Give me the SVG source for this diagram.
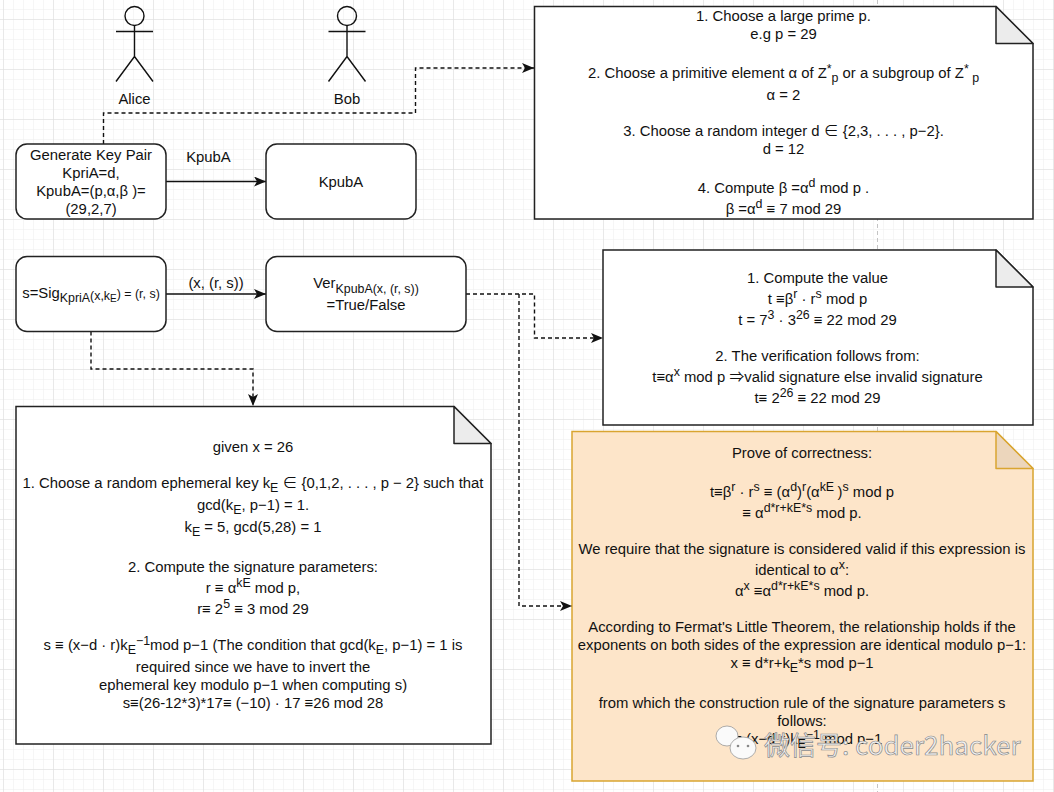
<svg xmlns="http://www.w3.org/2000/svg" width="1054" height="792" viewBox="0 0 1054 792">
<style>
text{font-family:"Liberation Sans",Arial,"Noto Sans CJK SC",sans-serif;font-size:14.85px;fill:#111;text-anchor:middle}
.u{font-size:12.4px}
.box{fill:#fff;stroke:#222;stroke-width:1.5}
.fold{fill:#ececec;stroke:#222;stroke-width:1.5;stroke-linejoin:round}
.note{fill:#fff;stroke:#222;stroke-width:1.5;stroke-linejoin:miter}
.actor{fill:none;stroke:#111;stroke-width:1.4}
.solid{fill:none;stroke:#111;stroke-width:1.4;marker-end:url(#arrow)}
.dash{fill:none;stroke:#111;stroke-width:1.4;stroke-dasharray:4 3;marker-end:url(#arrow)}
.wm{font-family:"Noto Sans CJK SC","Liberation Sans",sans-serif;font-size:26px;fill:#f2f2f2;stroke:#8a8a8a;stroke-width:.7;text-anchor:start}
</style>
<defs>
<pattern id="minor" width="10" height="10" x="3" y="9" patternUnits="userSpaceOnUse"><path d="M10 0H0V10" fill="none" stroke="#ededed" stroke-width="1"/></pattern>
<pattern id="major" width="50" height="50" x="3" y="19" patternUnits="userSpaceOnUse"><path d="M50 0H0V50" fill="none" stroke="#dcdcdc" stroke-width="1"/></pattern>
<marker id="arrow" viewBox="0 0 12 10" refX="12" refY="5" markerWidth="12" markerHeight="10" markerUnits="userSpaceOnUse" orient="auto"><path d="M0 0L12 5L0 10L3 5Z" fill="#111"/></marker>
</defs>
<rect width="1054" height="792" fill="#fff"/>
<rect width="1054" height="792" fill="url(#minor)"/>
<rect width="1054" height="792" fill="url(#major)"/>
<path d="M877.5 0V792" stroke="#c4c4c4" stroke-width="1" stroke-dasharray="4 3" fill="none"/>

<g id="connectors">
<path class="dash" d="M103.5 144V113H415.5V68H534"/>
<path class="solid" d="M166 181.5H266"/>
<path class="solid" d="M166 294H266"/>
<path class="dash" d="M91 331.500V369H253V406"/>
<path class="dash" d="M466 294H534.500V338H603"/>
<path class="dash" d="M519 294V606H572"/>
<text x="208.500" y="162">KpubA</text>
<text x="216" y="288">(x, (r, s))</text>
</g>

<g id="alice">
<g class="actor"><circle cx="134.500" cy="16" r="9.500"/><path d="M134.500 25.500V56.500M116 31.500H153M116 81.500L134.500 56.500L153 81.500"/></g>
<text x="134.500" y="104">Alice</text>
</g>
<g id="bob">
<g class="actor"><circle cx="347" cy="16" r="9.500"/><path d="M347 25.500V56.500M328.500 31.500H365.500M328.500 81.500L347 56.500L365.500 81.500"/></g>
<text x="347" y="104">Bob</text>
</g>

<g id="keygen">
<rect class="box" x="16" y="144" width="150" height="75" rx="11"/>
<text x="91" y="160">Generate Key Pair</text>
<text x="91" y="178">KpriA=d,</text>
<text x="91" y="196">KpubA=(p,α,β )=</text>
<text x="91" y="214">(29,2,7)</text>
</g>
<g id="kpuba">
<rect class="box" x="266" y="144" width="150" height="75" rx="11"/>
<text x="341" y="187">KpubA</text>
</g>
<g id="sign">
<rect class="box" x="16" y="256.500" width="150" height="75" rx="11"/>
<text x="91" y="298">s=Sig<tspan class="u" dy="4">KpriA</tspan><tspan class="u" dy="-2">(x,k</tspan><tspan class="u" dy="2" style="font-size:10px">E</tspan><tspan class="u" dy="-4">) = (r, s)</tspan></text>
</g>
<g id="verify">
<rect class="box" x="266" y="256.500" width="200" height="75" rx="11"/>
<text x="366" y="288">Ver<tspan class="u" dy="5">KpubA(x, (r, s))</tspan></text>
<text x="366" y="310">=True/False</text>
</g>

<g id="note-keygen">
<path class="note" d="M534.500 6.500H996L1033 43.500V219H534.500Z"/>
<path class="fold" d="M996 6.500V43.500H1033Z"/>
<text x="783.500" y="21">1. Choose a large prime p.</text>
<text x="783.500" y="39">e.g p = 29</text>
<text x="783.500" y="78">2. Choose a primitive element α of Z<tspan class="u" dy="-5">*</tspan><tspan class="u" dy="9">p</tspan><tspan dy="-4"> or a subgroup of Z</tspan><tspan class="u" dy="-5">*</tspan><tspan class="u" dy="9"> p</tspan></text>
<text x="783.500" y="100">α = 2</text>
<text x="783.500" y="136">3. Choose a random integer d ∈ {2,3, . . . , p−2}.</text>
<text x="783.500" y="154">d = 12</text>
<text x="783.500" y="193">4. Compute β =α<tspan class="u" dy="-6">d</tspan><tspan dy="6"> mod p .</tspan></text>
<text x="783.500" y="214">β =α<tspan class="u" dy="-6">d</tspan><tspan dy="6"> ≡ 7 mod 29</tspan></text>
</g>

<g id="note-verify">
<path class="note" d="M603 250H996L1033 287V425H603Z"/>
<path class="fold" d="M996 250V287H1033Z"/>
<text x="817.500" y="283">1. Compute the value</text>
<text x="817.500" y="304">t ≡β<tspan class="u" dy="-6">r</tspan><tspan dy="6"> · r</tspan><tspan class="u" dy="-6">s</tspan><tspan dy="6"> mod p</tspan></text>
<text x="817.500" y="325">t = 7<tspan class="u" dy="-6">3</tspan><tspan dy="6"> · 3</tspan><tspan class="u" dy="-6">26</tspan><tspan dy="6"> ≡ 22 mod 29</tspan></text>
<text x="817.500" y="361">2. The verification follows from:</text>
<text x="817.500" y="382">t≡α<tspan class="u" dy="-6">x</tspan><tspan dy="6"> mod p ⇒valid signature else invalid signature</tspan></text>
<text x="817.500" y="403">t≡ 2<tspan class="u" dy="-6">26</tspan><tspan dy="6"> ≡ 22 mod 29</tspan></text>
</g>

<g id="note-sign">
<path class="note" d="M16 406.500H454L491 443.500V744H16Z"/>
<path class="fold" d="M454 406.500V443.500H491Z"/>
<text x="253" y="452">given x = 26</text>
<text x="253" y="488">1. Choose a random ephemeral key k<tspan class="u" dy="4">E</tspan><tspan dy="-4"> ∈ {0,1,2, . . . , p − 2} such that</tspan></text>
<text x="253" y="510">gcd(k<tspan class="u" dy="4">E</tspan><tspan dy="-4">, p−1) = 1.</tspan></text>
<text x="253" y="532">k<tspan class="u" dy="4">E</tspan><tspan dy="-4"> = 5, gcd(5,28) = 1</tspan></text>
<text x="253" y="572">2. Compute the signature parameters:</text>
<text x="253" y="593">r ≡ α<tspan class="u" dy="-6">kE</tspan><tspan dy="6"> mod p,</tspan></text>
<text x="253" y="614">r≡ 2<tspan class="u" dy="-6">5</tspan><tspan dy="6"> ≡ 3 mod 29</tspan></text>
<text x="253" y="650">s ≡ (x−d · r)k<tspan class="u" dy="4">E</tspan><tspan class="u" dy="-9">−1</tspan><tspan dy="5">mod p−1 (The condition that gcd(k</tspan><tspan class="u" dy="4">E</tspan><tspan dy="-4">, p−1) = 1 is</tspan></text>
<text x="253" y="672">required since we have to invert the</text>
<text x="253" y="690">ephemeral key modulo p−1 when computing s)</text>
<text x="253" y="708">s≡(26-12*3)*17≡ (−10) · 17 ≡26 mod 28</text>
</g>

<g id="note-proof">
<path d="M572 431.500H996L1033 468.500V781H572Z" fill="#fde5c9" stroke="#d9a530" stroke-width="1.5"/>
<path d="M996 431.500V468.500H1033Z" fill="#ecd6bc" stroke="#d9a530" stroke-width="1.5" stroke-linejoin="round"/>
<text x="802" y="458">Prove of correctness:</text>
<text x="802" y="497">t≡β<tspan class="u" dy="-6">r</tspan><tspan dy="6"> · r</tspan><tspan class="u" dy="-6">s</tspan><tspan dy="6"> ≡ (α</tspan><tspan class="u" dy="-6">d</tspan><tspan dy="6">)</tspan><tspan class="u" dy="-6">r</tspan><tspan dy="6">(α</tspan><tspan class="u" dy="-6">kE </tspan><tspan dy="6">)</tspan><tspan class="u" dy="-6">s</tspan><tspan dy="6"> mod p</tspan></text>
<text x="802" y="518">≡ α<tspan class="u" dy="-6">d*r+kE*s</tspan><tspan dy="6"> mod p.</tspan></text>
<text x="802" y="554">We require that the signature is considered valid if this expression is</text>
<text x="802" y="575">identical to α<tspan class="u" dy="-6">x</tspan><tspan dy="6">:</tspan></text>
<text x="802" y="596">α<tspan class="u" dy="-6">x</tspan><tspan dy="6"> ≡α</tspan><tspan class="u" dy="-6">d*r+kE*s</tspan><tspan dy="6"> mod p.</tspan></text>
<text x="802" y="632">According to Fermat's Little Theorem, the relationship holds if the</text>
<text x="802" y="650">exponents on both sides of the expression are identical modulo p−1:</text>
<text x="802" y="668">x ≡ d*r+k<tspan class="u" dy="4">E</tspan><tspan dy="-4">*s mod p−1</tspan></text>
<text x="802" y="708">from which the construction rule of the signature parameters s</text>
<text x="802" y="726">follows:</text>
<text x="802" y="744">s ≡ (x−d·r)k<tspan class="u" dy="4">E</tspan><tspan class="u" dy="-9">−1</tspan><tspan dy="5"> mod p−1</tspan></text>
</g>

<g id="watermark">
<ellipse cx="727" cy="736" rx="11" ry="10" fill="#fafafa" stroke="#999" stroke-width=".8"/>
<ellipse cx="743" cy="748" rx="13" ry="11" fill="#fafafa" stroke="#999" stroke-width=".8"/>
<circle cx="738" cy="746" r="1.300" fill="#888"/><circle cx="748" cy="746" r="1.300" fill="#888"/>
<text class="wm" x="764" y="755">微信号: coder2hacker</text>
</g>
</svg>
